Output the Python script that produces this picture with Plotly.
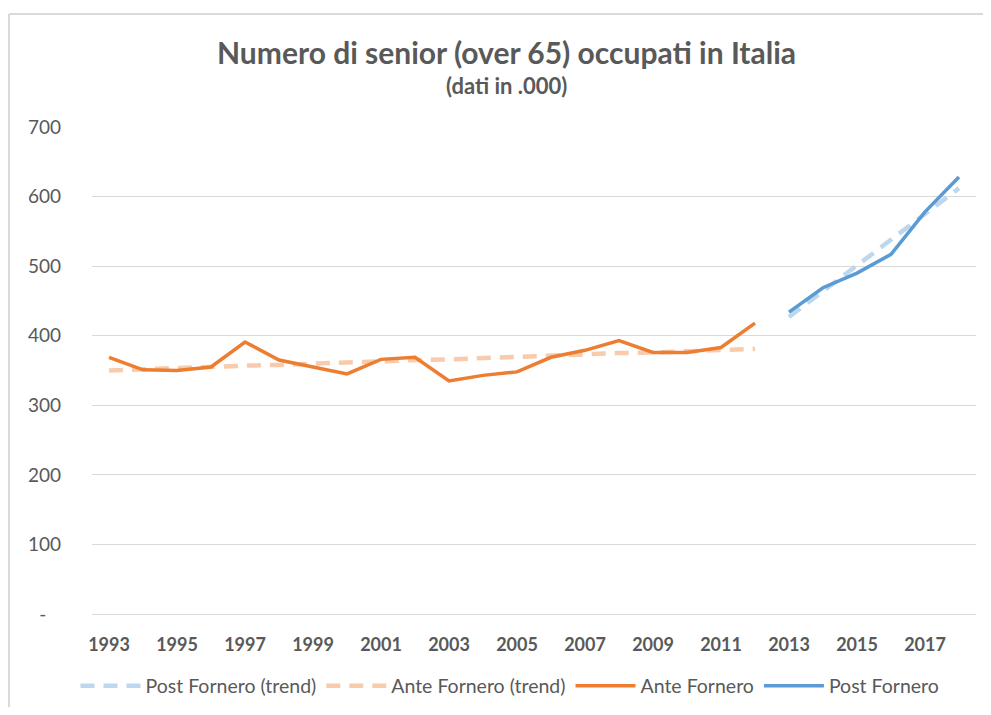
import plotly.graph_objects as go

years_ante = list(range(1993, 2013))
years_post = list(range(2013, 2019))

ante_fornero = [369, 351, 350, 355, 391, 365, 355, 345, 366, 369,
                335, 343, 348, 369, 379, 393, 376, 376, 383, 418]
post_fornero = [434, 469, 490, 517, 578, 628]

ante_trend = [350, 352, 353, 355, 357, 358, 360, 361, 363, 365,
              366, 368, 370, 371, 373, 375, 376, 378, 379, 381]
post_trend = [427, 464, 501, 538, 575, 612]

x_tick_years = list(range(1993, 2019, 2))
y_tick_vals = [0, 100, 200, 300, 400, 500, 600, 700]
y_tick_text = ["-\u00a0\u00a0\u00a0", "100", "200", "300", "400", "500", "600", "700"]

title_text = "Numero di senior (over 65) occupati in Italia"
subtitle_text = "(dati in .000)"

FONT = "Lato, 'Open Sans', sans-serif"
TXT = "#595959"
ORANGE = "#ED7D31"
BLUE = "#5B9BD5"
ORANGE_L = "#F8CBAD"
BLUE_L = "#BDD7EE"

OFF = 8  # page body margin
W, H = 991 - 2 * OFF, 715 - 2 * OFF
# page-pixel positions of the plot area
P_LEFT, P_RIGHT, P_TOP, P_BOTTOM = 92, 976, 127, 614
ML = P_LEFT - OFF
MR = W - (P_RIGHT - OFF)
MT = P_TOP - OFF
MB = H - (P_BOTTOM - OFF)
PW = W - ML - MR
PH = H - MT - MB

def px_x(p):
    return (p - P_LEFT) / PW

def px_y(p):
    return (P_BOTTOM - p) / PH

fig = go.Figure()
fig.add_trace(go.Scatter(x=years_post, y=post_trend, name="Post Fornero (trend)", mode="lines",
                         line=dict(color=BLUE_L, width=4.5, dash="14px,9px")))
fig.add_trace(go.Scatter(x=years_ante, y=ante_trend, name="Ante Fornero (trend)", mode="lines",
                         line=dict(color=ORANGE_L, width=4.5, dash="14px,9px")))
fig.add_trace(go.Scatter(x=years_ante, y=ante_fornero, name="Ante Fornero", mode="lines",
                         line=dict(color=ORANGE, width=3.5)))
fig.add_trace(go.Scatter(x=years_post, y=post_fornero, name="Post Fornero", mode="lines",
                         line=dict(color=BLUE, width=3.5)))

fig.update_layout(
    width=W, height=H,
    margin=dict(l=ML, r=MR, t=MT, b=MB, autoexpand=False),
    paper_bgcolor="white", plot_bgcolor="white",
    font=dict(family=FONT, color=TXT, size=17),
    showlegend=True,
    legend=dict(orientation="h", x=px_x(510), xanchor="center", y=px_y(686), yanchor="middle",
                itemwidth=60, font=dict(size=19.5, color=TXT), bgcolor="rgba(0,0,0,0)",
                traceorder="normal"),
    xaxis=dict(range=[1992.5, 2018.5], tickvals=x_tick_years, ticktext=[str(y) for y in x_tick_years],
               showgrid=False, zeroline=False, showline=True, linecolor="#d9d9d9", linewidth=1,
               ticks="", tickfont=dict(size=18, color=TXT, family=FONT, weight="bold"),
               ticklabelstandoff=14, fixedrange=True),
    yaxis=dict(range=[0, 700], tickvals=y_tick_vals, ticktext=y_tick_text,
               showgrid=True, gridcolor="#d9d9d9", gridwidth=1, zeroline=False,
               showline=False, ticks="", tickfont=dict(size=19, color=TXT, family=FONT),
               ticklabelstandoff=30, fixedrange=True),
    annotations=[
        dict(text=title_text, x=px_x(506), y=px_y(52), xref="paper", yref="paper",
             xanchor="center", yanchor="middle", showarrow=False,
             font=dict(size=30, color=TXT, family=FONT, weight="bold")),
        dict(text=subtitle_text, x=px_x(506), y=px_y(86), xref="paper", yref="paper",
             xanchor="center", yanchor="middle", showarrow=False,
             font=dict(size=22, color=TXT, family=FONT, weight="bold")),
    ],
    shapes=[
        dict(type="line", xref="paper", yref="paper", x0=px_x(9), x1=px_x(9), y0=px_y(720), y1=px_y(14),
             line=dict(color="#d9d9d9", width=2)),
        dict(type="line", xref="paper", yref="paper", x0=px_x(9), x1=px_x(995), y0=px_y(14), y1=px_y(14),
             line=dict(color="#d9d9d9", width=2)),
    ],
)

fig.write_html("out.html")
